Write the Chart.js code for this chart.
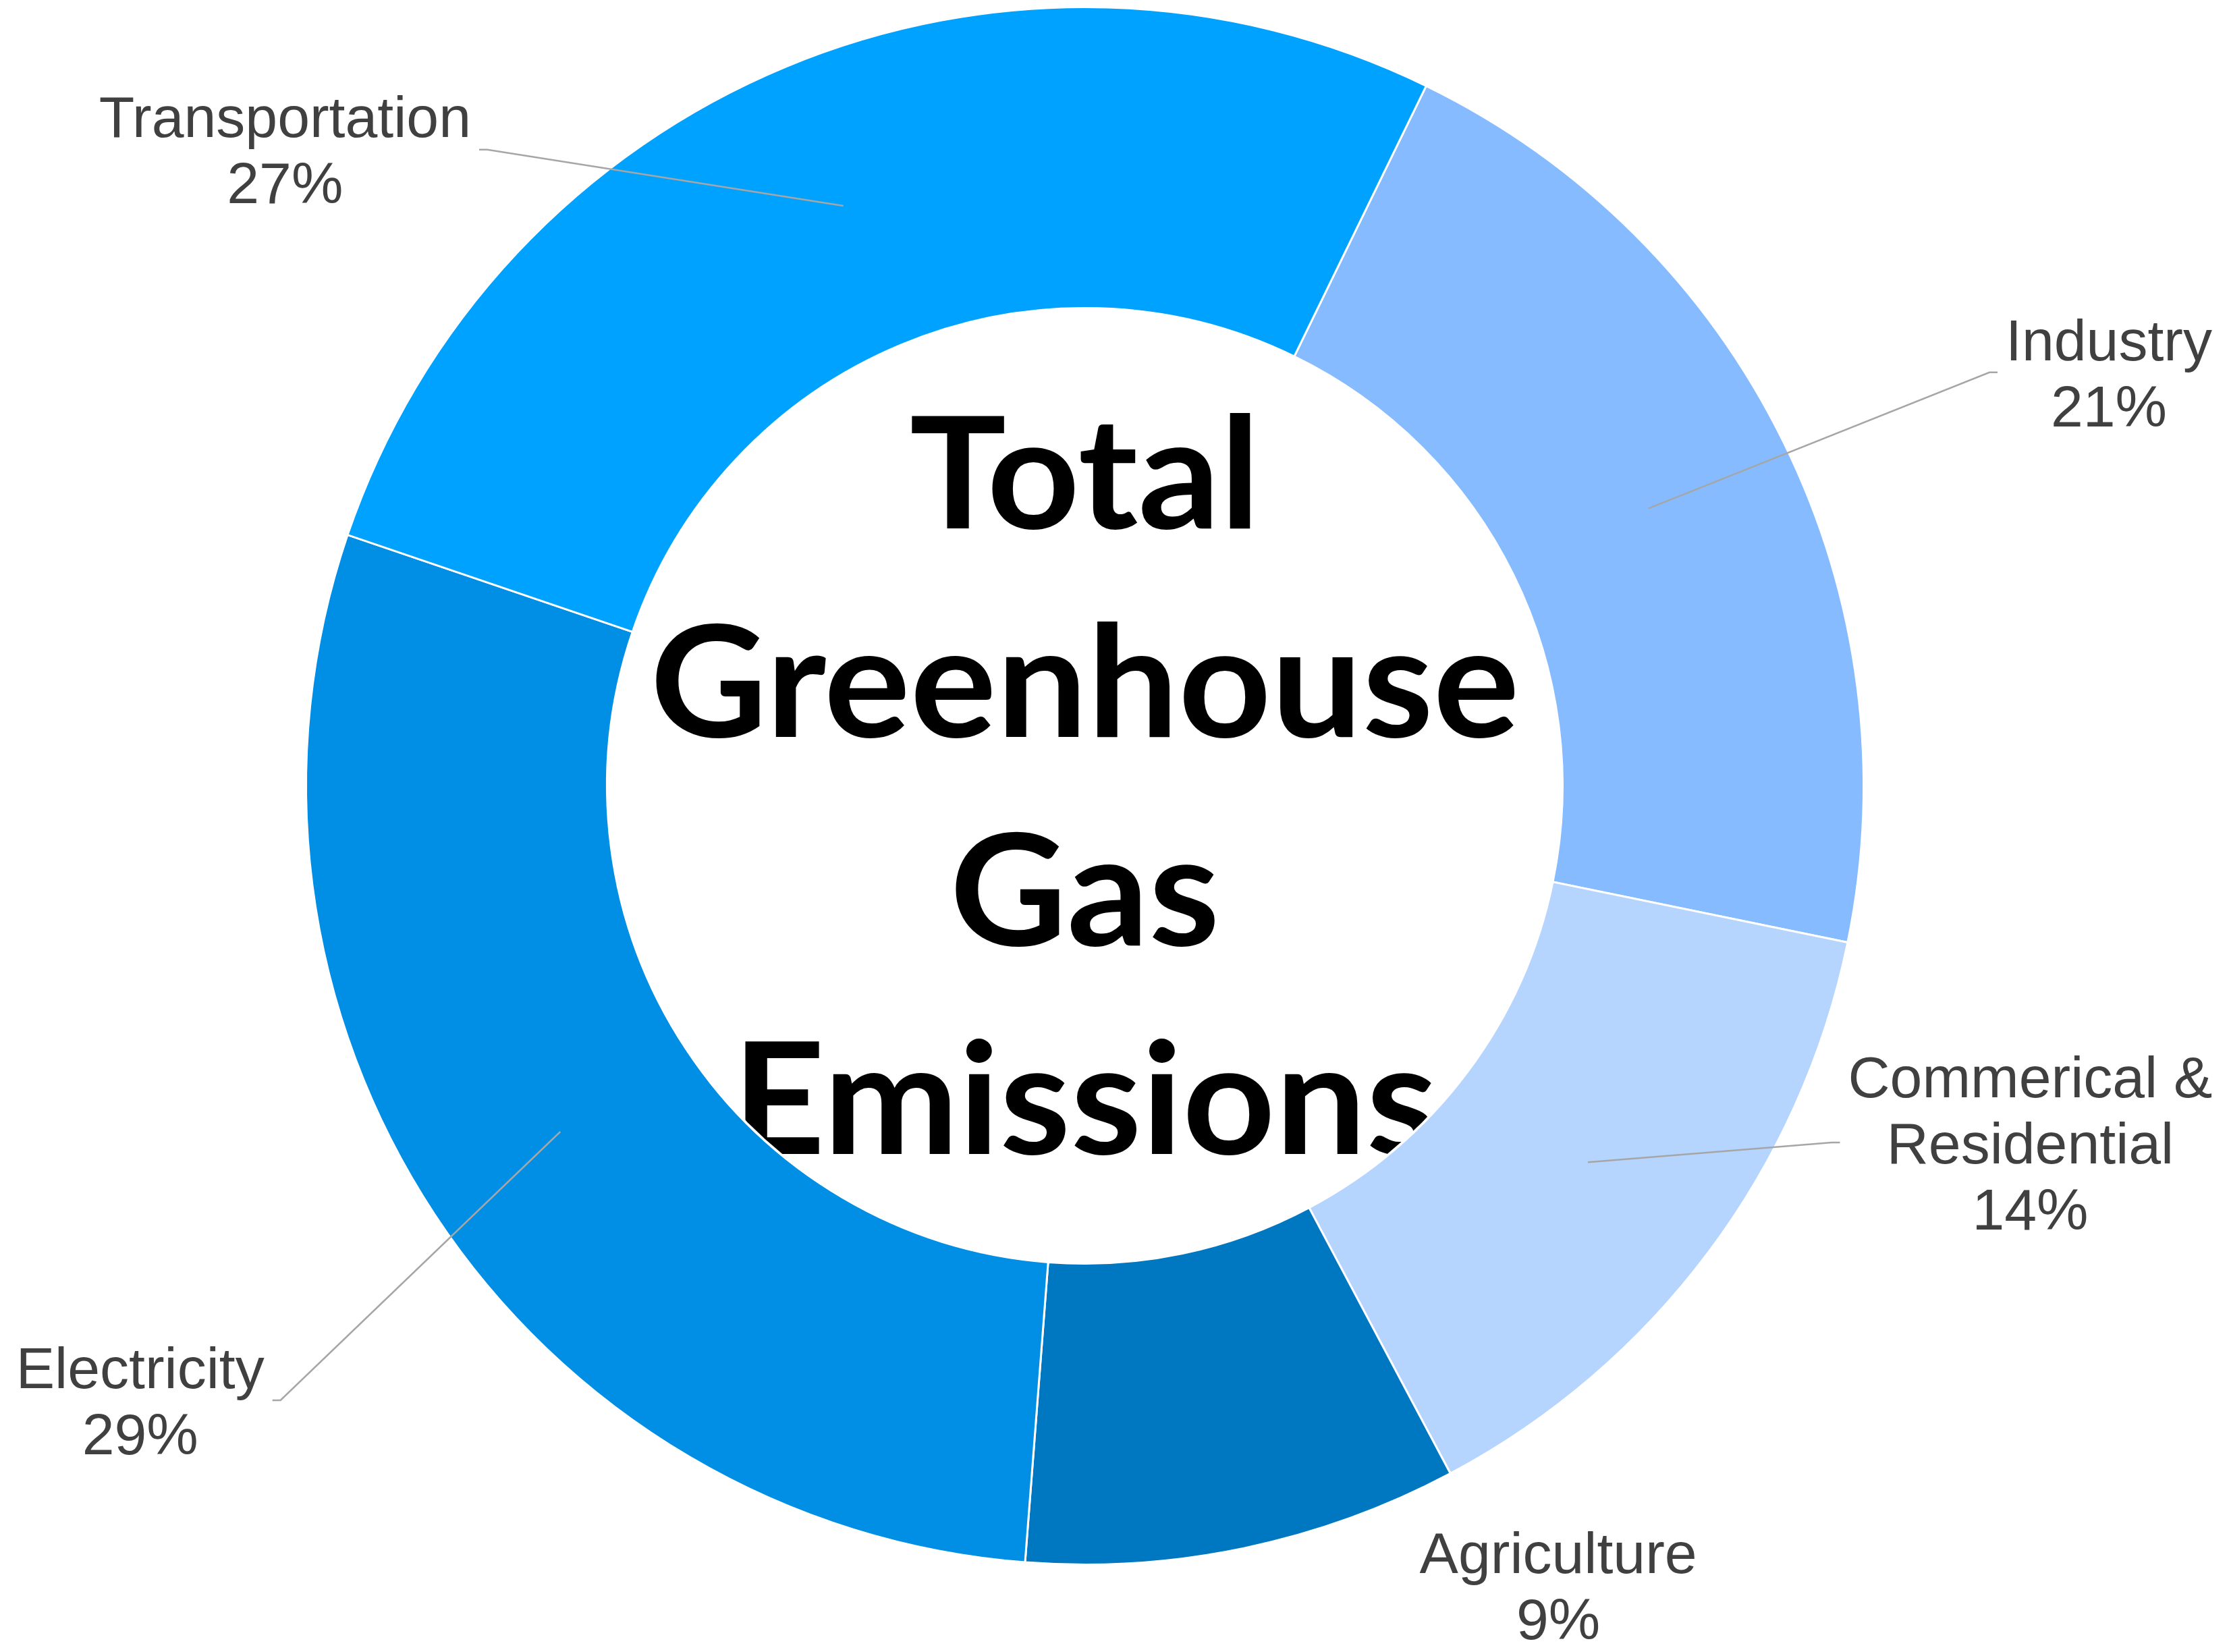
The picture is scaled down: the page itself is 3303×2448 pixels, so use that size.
<!DOCTYPE html>
<html>
<head>
<meta charset="utf-8">
<script src="https://cdn.jsdelivr.net/npm/chart.js@4.4.0/dist/chart.umd.min.js"></script>
<style>
  html, body { margin: 0; padding: 0; background: #ffffff; }
  canvas { display: block; }
</style>
</head>
<body>
<canvas id="c" width="3303" height="2448"></canvas>
<script>
// ---- Data ----
const categories = ['Industry', 'Commerical &\nResidential', 'Agriculture', 'Electricity', 'Transportation'];
const values = [21, 14, 9, 29, 27];
const colors = ['#86BCFF', '#B5D5FF', '#0078C1', '#008FE4', '#00A2FF'];
const centerTitle = ['Total', 'Greenhouse', 'Gas', 'Emissions'];

// ---- Label layout (relative to chart centre, in units of outer radius) ----
const labelLayout = [
  { dx: 1.315,  dy: -0.531, leader: true },
  { dx: 1.214,  dy: 0.458,  leader: true },
  { dx: 0.608,  dy: 1.027,  leader: false },
  { dx: -1.213, dy: 0.789,  leader: true },
  { dx: -1.027, dy: -0.817, leader: true }
];

const total = values.reduce((a, b) => a + b, 0);

const labelPlugin = {
  id: 'outLabels',
  afterDatasetsDraw(chart) {
    const ctx = chart.ctx;
    const meta = chart.getDatasetMeta(0);
    const arcs = meta.data;
    if (!arcs.length) return;
    const p0 = arcs[0].getProps(['x', 'y', 'innerRadius', 'outerRadius']);
    const cx = p0.x, cy = p0.y, R = p0.outerRadius, r = p0.innerRadius;

    // Centre title clipped to the hole
    ctx.save();
    ctx.beginPath();
    ctx.arc(cx, cy, r - 2, 0, Math.PI * 2);
    ctx.clip();
    const tf = 230, tl = 309, cap = tf * 0.7165;
    ctx.font = 'bold ' + tf + 'px Lato, "DejaVu Sans", sans-serif';
    ctx.fillStyle = '#000000';
    ctx.textAlign = 'center';
    ctx.textBaseline = 'alphabetic';
    const th = cap + (centerTitle.length - 1) * tl;
    let by = cy - th / 2 + cap;
    ctx.translate(cx, 0);
    ctx.scale(1.04, 1);
    centerTitle.forEach((t, i) => ctx.fillText(t, 0, by + i * tl));
    ctx.restore();

    // Outside labels with leader lines
    const fs = 86, lh = 98, lcap = fs * 0.716;
    ctx.save();
    ctx.font = fs + 'px "Liberation Sans", Arial, sans-serif';
    ctx.textAlign = 'center';
    ctx.textBaseline = 'alphabetic';
    arcs.forEach((arc, i) => {
      const p = arc.getProps(['startAngle', 'endAngle', 'innerRadius', 'outerRadius']);
      const mid = (p.startAngle + p.endAngle) / 2;
      const rr = (p.innerRadius + p.outerRadius) / 2;
      const px = cx + Math.cos(mid) * rr;
      const py = cy + Math.sin(mid) * rr;
      const lay = labelLayout[i];
      const lx = cx + lay.dx * R;
      const ly = cy + lay.dy * R;
      const pct = Math.round(values[i] / total * 100) + '%';
      const lines = categories[i].split('\n').concat([pct]);
      const h = lcap + (lines.length - 1) * lh;
      const first = ly - h / 2 + lcap;
      let w = 0;
      lines.forEach(s => { w = Math.max(w, ctx.measureText(s).width); });
      if (lay.leader) {
        const right = lx < px;
        const ex = right ? lx + w / 2 + 12 : lx - w / 2 - 12;
        const ex2 = right ? ex + 12 : ex - 12;
        ctx.beginPath();
        ctx.strokeStyle = '#A6A6A6';
        ctx.lineWidth = 2.5;
        ctx.moveTo(ex, ly);
        ctx.lineTo(ex2, ly);
        ctx.lineTo(px, py);
        ctx.stroke();
      }
      ctx.fillStyle = '#404040';
      lines.forEach((s, k) => ctx.fillText(s, lx, first + k * lh));
    });
    ctx.restore();
  }
};

new Chart(document.getElementById('c'), {
  type: 'doughnut',
  data: {
    labels: categories,
    datasets: [{
      data: values,
      backgroundColor: colors,
      borderColor: '#ffffff',
      borderWidth: 3,
      borderJoinStyle: 'miter'
    }]
  },
  options: {
    responsive: false,
    animation: false,
    devicePixelRatio: 1,
    rotation: 26,
    cutout: '61.35%',
    layout: { padding: { top: 9, bottom: 128, left: 452, right: 540 } },
    plugins: {
      legend: { display: false },
      tooltip: { enabled: false },
      title: { display: false }
    }
  },
  plugins: [labelPlugin]
});
</script>
</body>
</html>
